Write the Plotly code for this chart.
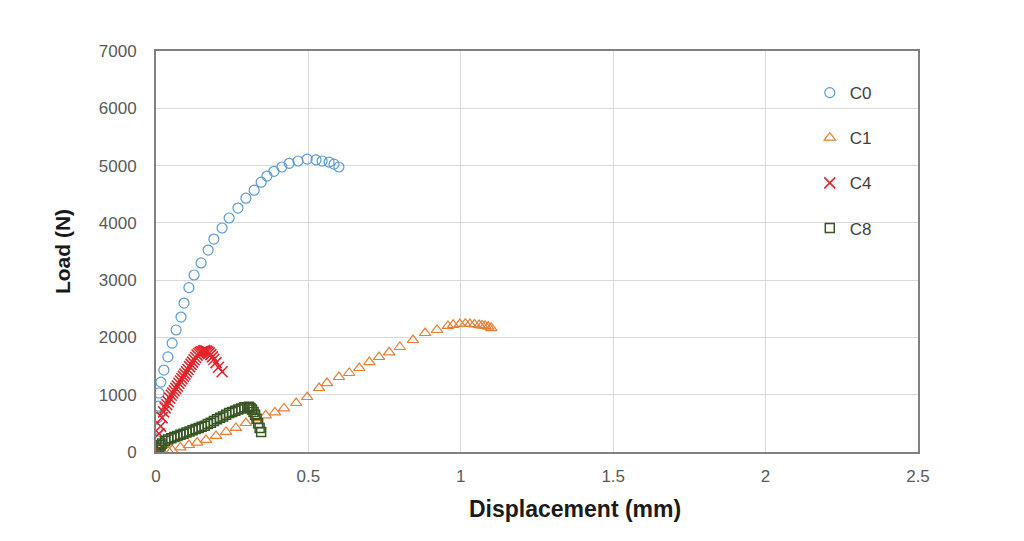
import plotly.graph_objects as go

# ---- data ----
c0_x = [0, 0.002, 0.004, 0.006, 0.008, 0.01, 0.016, 0.026, 0.039, 0.053, 0.066, 0.082, 0.092,
        0.108, 0.125, 0.148, 0.171, 0.19, 0.217, 0.24, 0.269, 0.295, 0.322, 0.345, 0.364, 0.387,
        0.413, 0.437, 0.466, 0.496, 0.525, 0.545, 0.568, 0.584, 0.6]
c0_y = [0, 200, 400, 600, 800, 1030, 1220, 1430, 1660, 1900, 2130, 2356, 2600,
        2870, 3090, 3300, 3525, 3717, 3910, 4085, 4258, 4430, 4570, 4710, 4817, 4900,
        4975, 5040, 5080, 5113, 5100, 5080, 5060, 5025, 4975]

c1_x = [0, 0.02, 0.04, 0.053, 0.08, 0.108, 0.135, 0.164, 0.197, 0.23, 0.262, 0.295, 0.331, 0.36,
        0.39, 0.42, 0.46, 0.496, 0.535, 0.561, 0.6, 0.634, 0.667, 0.7, 0.732, 0.765, 0.8, 0.843,
        0.883, 0.922, 0.958, 0.975, 0.997, 1.015, 1.03, 1.045, 1.06, 1.07, 1.08, 1.09, 1.1]
c1_y = [0, 5, 15, 35, 80, 122, 165, 210, 280, 350, 420, 506, 593, 640,
        690, 760, 855, 960, 1117, 1204, 1309, 1379, 1466, 1570, 1658, 1740, 1833, 1955,
        2077, 2130, 2200, 2220, 2234, 2240, 2234, 2228, 2216, 2210, 2200, 2190, 2164]

c4_x = [0, 0.005, 0.01, 0.015, 0.02, 0.025, 0.03, 0.035, 0.04, 0.045, 0.05, 0.055, 0.06, 0.065,
        0.07, 0.075, 0.08, 0.085, 0.09, 0.095, 0.1, 0.105, 0.11, 0.115, 0.12, 0.125, 0.13, 0.135,
        0.14, 0.145, 0.15, 0.155, 0.16, 0.165, 0.17, 0.175, 0.18, 0.185, 0.19, 0.197, 0.205, 0.217]
c4_y = [0, 170, 320, 450, 600, 700, 770, 830, 880, 940, 990, 1030, 1070, 1110,
        1150, 1200, 1240, 1280, 1320, 1360, 1400, 1440, 1490, 1530, 1570, 1610, 1650, 1690,
        1720, 1740, 1750, 1760, 1770, 1760, 1750, 1730, 1700, 1660, 1620, 1560, 1480, 1400]

c8_x = [0, 0.005, 0.01, 0.015, 0.02, 0.03, 0.04, 0.05, 0.06, 0.07, 0.08, 0.09, 0.1, 0.11, 0.12,
        0.13, 0.14, 0.15, 0.16, 0.17, 0.18, 0.19, 0.2, 0.21, 0.22, 0.23, 0.24, 0.25, 0.26, 0.27,
        0.28, 0.29, 0.3, 0.305, 0.31, 0.315, 0.32, 0.325, 0.33, 0.335, 0.34, 0.345]
c8_y = [0, 40, 80, 120, 150, 190, 220, 240, 260, 280, 300, 320, 340, 360, 380,
        400, 420, 440, 460, 490, 510, 540, 570, 600, 620, 650, 680, 700, 720, 740,
        760, 780, 780, 790, 770, 740, 700, 650, 580, 500, 420, 350]

series_names = ["C0", "C1", "C4", "C8"]
x_ticks = [0, 0.5, 1, 1.5, 2, 2.5]
x_tick_text = ["0", "0.5", "1", "1.5", "2", "2.5"]
y_ticks = [0, 1000, 2000, 3000, 4000, 5000, 6000, 7000]

# ---- figure ----
fig = go.Figure()
styles = [
    dict(symbol="circle-open", color="#5B9BD5", size=10, line=dict(width=1.2, color="#5B9BD5")),
    dict(symbol="triangle-up-open", color="#ED7D31", size=10, line=dict(width=1.2, color="#ED7D31")),
    dict(symbol="x-thin-open", color="#E0262B", size=11, line=dict(width=1.6, color="#E0262B")),
    dict(symbol="square-open", color="#375623", size=9, line=dict(width=1.5, color="#375623")),
]
data = [(c0_x, c0_y), (c1_x, c1_y), (c4_x, c4_y), (c8_x, c8_y)]
for name, (xs, ys), st in zip(series_names, data, styles):
    fig.add_trace(go.Scatter(x=xs, y=ys, mode="markers", name=name, legendgroup=name,
                             marker=st))

font_family = "Liberation Sans, Arial, sans-serif"
fig.update_layout(
    width=1024, height=541,
    margin=dict(l=156, r=106, t=51, b=89),
    paper_bgcolor="white", plot_bgcolor="white",
    font=dict(family=font_family, color="#595959", size=16),
    showlegend=True,
    legend=dict(x=0.858, y=0.94, xanchor="left", yanchor="top",
                bgcolor="rgba(0,0,0,0)", borderwidth=0,
                font=dict(size=17, color="#404040", family=font_family),
                tracegroupgap=20, itemwidth=30),
    annotations=[dict(text="<b>Displacement (mm)</b>", xref="paper", yref="paper",
                      x=0.55, y=-0.142, xanchor="center", yanchor="middle", showarrow=False,
                      font=dict(size=23, color="#1a1a1a", family=font_family))],
)
fig.update_xaxes(
    range=[0, 2.5], tickvals=x_ticks, ticktext=x_tick_text,
    showgrid=True, gridcolor="#D9D9D9", gridwidth=1,
    zeroline=False, showline=True, linecolor="#808080", linewidth=2, mirror=True,
    ticks="", ticklabelstandoff=8,
    tickfont=dict(size=17, color="#595959"),
)
fig.update_yaxes(
    range=[0, 7000], tickvals=y_ticks,
    showgrid=True, gridcolor="#D9D9D9", gridwidth=1,
    zeroline=False, showline=True, linecolor="#808080", linewidth=2, mirror=True,
    ticks="", ticklabelstandoff=14,
    tickfont=dict(size=17, color="#595959"),
    title=dict(text="<b>Load (N)</b>", font=dict(size=21, color="#1a1a1a"), standoff=22),
)

fig.write_html("out.html")
